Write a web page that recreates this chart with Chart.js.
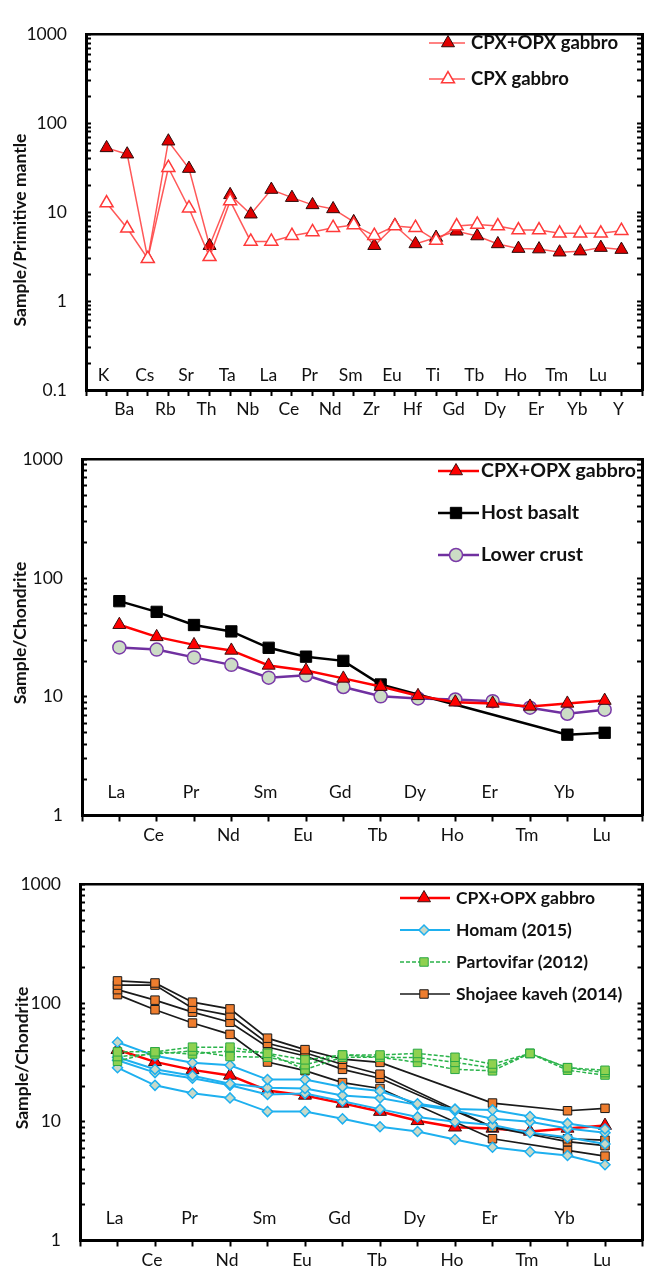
<!DOCTYPE html>
<html>
<head>
<meta charset="utf-8">
<title>Trace and rare earth element patterns</title>
<script src="https://cdn.jsdelivr.net/npm/chart.js@4.4.1/dist/chart.umd.min.js"></script>
<style>
  html, body { margin: 0; padding: 0; background: #fff; }
  #wrap { position: relative; width: 651px; height: 1275px; overflow: hidden; }
  .panel { position: absolute; left: 0; width: 651px; height: 425px; }
  .panel canvas { display: block; }
</style>
</head>
<body>
<div id="wrap">
  <div class="panel" style="top:0px"><canvas id="pm" width="651" height="425"></canvas></div>
  <div class="panel" style="top:425px"><canvas id="ree" width="651" height="425"></canvas></div>
  <div class="panel" style="top:850px"><canvas id="cmp" width="651" height="425"></canvas></div>
</div>
<script>
// ---- element sequences ----
const traceElements = ['K','Ba','Cs','Rb','Sr','Th','Ta','Nb','La','Ce','Pr','Nd','Sm','Zr','Eu','Hf','Ti','Gd','Tb','Dy','Ho','Er','Tm','Yb','Lu','Y'];
const reeElements = ['La','Ce','Pr','Nd','Sm','Eu','Gd','Tb','Dy','Ho','Er','Tm','Yb','Lu'];

// ---- labelled y ticks ----
const pmTickLabels = [0.1, 1, 10, 100, 1000];
const chTickLabels = [1, 10, 100, 1000];

// ---- primitive-mantle normalised (trace elements) ----
const pmCpxOpxGabbro = [53, 45, 3.0, 63, 31, 4.2, 15.7, 9.5, 18, 14.6, 12.1, 10.9, 7.8, 4.2, 7.1, 4.4, 5.2, 6.1, 5.4, 4.4, 3.9, 3.85, 3.55, 3.65, 4.0, 3.8];
const pmCpxGabbro    = [12.7, 6.6, 3.0, 31.7, 11.1, 3.15, 13.4, 4.7, 4.7, 5.45, 6.0, 6.7, 7.2, 5.45, 7.0, 6.7, 4.8, 7.0, 7.3, 7.0, 6.3, 6.3, 5.8, 5.8, 5.8, 6.2];

// ---- chondrite normalised (REE) ----
const chCpxOpxGabbro = [40.5, 32, 27.4, 24.6, 18.4, 16.7, 14.3, 12.2, 10.2, 9.0, 8.8, 8.3, 8.8, 9.3];
const chHostBasalt   = [64, 52, 40.3, 35.6, 25.9, 21.8, 20.1, 12.7, null, null, null, null, 4.8, 4.98];
const chLowerCrust   = [26.1, 25.0, 21.5, 18.6, 14.5, 15.2, 12.1, 10.1, 9.7, 9.5, 9.2, 8.1, 7.2, 7.8];

const homam1 = [46.8, 36, 31.5, 30, 22.7, 22.7, 19.7, 18.2, 14.2, 12.8, 12.6, 11.1, 9.7, 8.7];
const homam2 = [35, 27.7, 24.5, 20.9, 19.4, 19.1, 16.7, 15.9, 13.9, 12.4, 10.6, 10.0, 8.8, 8.1];
const homam3 = [33, 26, 23.3, 20.3, 17, 17.3, 14.9, 12.8, 11.0, 10.0, 9.4, 8.1, 7.4, 6.5];
const homam4 = [28.6, 20.3, 17.4, 15.9, 12.2, 12.2, 10.6, 9.1, 8.3, 7.1, 6.1, 5.6, 5.2, 4.35];

const partovifar1 = [38.9, 38.9, 42.6, 42.6, 37.8, 33.3, 36.6, 36.6, 37.7, 35, 30.7, 37.7, 28.6, 27.2];
const partovifar2 = [35.5, 37.3, 39.6, 35.5, 35, 30.3, 36.6, 35, 34.8, 31.7, 28.5, 37.7, 28.6, 26];
const partovifar3 = [32.4, 38.9, 37.3, 39.6, 37.8, 27.6, 35, 35, 31.7, 27.7, 26.9, 37.7, 27.2, 24.8];

const shojaee1 = [154, 148, 102, 89.5, 50.7, 40.6, 33.7, 31.7, null, null, 14.4, null, 12.4, 13.0];
const shojaee2 = [142, 142, 90.5, 79, 45.9, 38.2, 30.4, 25.2, null, null, 9.0, null, 7.2, 7.0];
const shojaee3 = [130, 106, 84, 69, 42.7, 35.9, 27.7, 23.3, null, null, 9.0, null, 6.8, 6.3];
const shojaee4 = [118, 88, 68, 54.6, 31.9, 27, 21.4, 19.1, null, null, 7.2, null, 5.74, 5.14];

// ---- drawing helpers ----
const FONT = 'Lato, "Liberation Sans", "DejaVu Sans", sans-serif';
const INK = '#111';

function series(label, values, style) {
  return Object.assign({
    label,
    data: values.map((v, i) => ({ x: i, y: v })),
    spanGaps: true,
    tension: 0,
    fill: false,
    xAxisID: 'x',
    yAxisID: 'y'
  }, style);
}

const styles = {
  pmFilled: { borderColor: 'rgba(255,70,70,0.9)', borderWidth: 1.5, pointStyle: 'triangle', pointRadius: 7.5,
              pointBackgroundColor: '#e00000', pointBorderColor: '#2b0a0a', pointBorderWidth: 1, order: 2 },
  pmOpen:   { borderColor: 'rgba(255,70,70,0.9)', borderWidth: 1.5, pointStyle: 'triangle', pointRadius: 7.5,
              pointBackgroundColor: '#ffffff', pointBorderColor: '#ff3a3a', pointBorderWidth: 1.5, order: 1 },
  gabbro:   { borderColor: '#ff0000', borderWidth: 2.5, pointStyle: 'triangle', pointRadius: 7.5,
              pointBackgroundColor: '#ff0000', pointBorderColor: '#3a1010', pointBorderWidth: 1 },
  basalt:   { borderColor: '#000000', borderWidth: 2.5, pointStyle: 'rect', pointRadius: 8,
              pointBackgroundColor: '#000000', pointBorderColor: '#000000', pointBorderWidth: 1 },
  crust:    { borderColor: '#7030a0', borderWidth: 2.5, pointStyle: 'circle', pointRadius: 6.5,
              pointBackgroundColor: '#ccdcc6', pointBorderColor: '#7a3aa8', pointBorderWidth: 1.5 },
  homam:    { borderColor: '#1eb0ef', borderWidth: 2, pointStyle: 'rectRot', pointRadius: 5,
              pointBackgroundColor: '#c8d9c8', pointBorderColor: '#1eb0ef', pointBorderWidth: 1.5 },
  partovi:  { borderColor: '#2ab34a', borderWidth: 1.5, borderDash: [4, 2], pointStyle: 'rect', pointRadius: 6,
              pointBackgroundColor: '#8fd150', pointBorderColor: '#2aa845', pointBorderWidth: 1 },
  shojaee:  { borderColor: '#1a1a1a', borderWidth: 1.7, pointStyle: 'rect', pointRadius: 6,
              pointBackgroundColor: '#ee7d2e', pointBorderColor: '#1a1a1a', pointBorderWidth: 1 }
};

// inner labels, rotated axis title and the boxed legend
const decor = {
  id: 'spiderDecor',
  afterDraw(chart, args, o) {
    const ctx = chart.ctx, ca = chart.chartArea, xs = chart.scales.x;
    ctx.save();
    ctx.fillStyle = INK;
    ctx.font = `${o.tickSize}px ${FONT}`;
    ctx.textAlign = 'center';
    ctx.textBaseline = 'middle';
    o.cats.forEach((c, i) => {
      if (i % 2 === 0) ctx.fillText(c, xs.getPixelForValue(i) + o.labelShift, ca.bottom - o.innerRise);
    });

    ctx.save();
    ctx.translate(o.title.x, o.title.y);
    ctx.rotate(-Math.PI / 2);
    ctx.font = `700 ${o.title.size}px ${FONT}`;
    ctx.fillText(o.title.text, 0, 0);
    ctx.restore();

    const L = o.legend;
    L.items.forEach((idx, k) => {
      const ds = chart.data.datasets[idx];
      const y = L.y0 + k * L.dy;
      ctx.save();
      ctx.strokeStyle = ds.borderColor;
      ctx.lineWidth = ds.borderWidth;
      ctx.setLineDash(ds.borderDash || []);
      ctx.beginPath();
      ctx.moveTo(L.x1, y);
      ctx.lineTo(L.x2, y);
      ctx.stroke();
      ctx.setLineDash([]);
      ctx.fillStyle = ds.pointBackgroundColor;
      ctx.strokeStyle = ds.pointBorderColor;
      ctx.lineWidth = ds.pointBorderWidth;
      Chart.helpers.drawPoint(ctx, {
        pointStyle: ds.pointStyle, rotation: 0,
        radius: ds.pointRadius, borderWidth: ds.pointBorderWidth
      }, L.mx, y);
      ctx.restore();
      ctx.fillStyle = INK;
      ctx.font = `700 ${L.size}px ${FONT}`;
      ctx.textAlign = 'left';
      ctx.textBaseline = 'middle';
      ctx.fillText(ds.label, L.tx, y);
    });
    ctx.restore();
  }
};

function logTickList(min, max) {
  const out = [];
  for (let e = Math.round(Math.log10(min)); e < Math.round(Math.log10(max)); e++) {
    for (let m = 1; m < 10; m++) out.push({ value: +(m * Math.pow(10, e)).toPrecision(4) });
  }
  out.push({ value: max });
  return out;
}

function spider(id, p) {
  const n = p.cats.length;
  const span = [];
  for (let v = -1; v <= n; v++) span.push({ value: v });
  const yTicks = () => logTickList(p.yMin, p.yMax);
  const tickFont = { family: FONT, size: p.tickSize };

  return new Chart(document.getElementById(id), {
    type: 'line',
    data: { datasets: p.datasets },
    plugins: [decor],
    options: {
      responsive: false,
      animation: false,
      devicePixelRatio: 1,
      events: [],
      layout: { padding: { top: p.top, left: 0, right: 0, bottom: 0 } },
      plugins: {
        legend: { display: false },
        tooltip: { enabled: false },
        spiderDecor: {
          cats: p.cats, tickSize: p.tickSize, labelShift: -3, innerRise: p.innerRise,
          title: p.title, legend: p.legend
        }
      },
      scales: {
        x: {
          type: 'linear', position: 'bottom', min: -1, max: n,
          afterBuildTicks: s => { s.ticks = span.map(t => ({ value: t.value })); },
          afterFit: s => { s.height = p.xHeight; },
          ticks: {
            autoSkip: false, maxRotation: 0, padding: 3, labelOffset: -3, color: INK, font: tickFont,
            callback: v => (v >= 0 && v < n && v % 2 === 1) ? p.cats[v] : ''
          },
          grid: { drawOnChartArea: false, drawTicks: true, tickLength: 6, tickColor: '#000', tickWidth: 2 },
          border: { display: true, color: '#000', width: 3 }
        },
        xTop: {
          type: 'linear', position: 'top', min: -1, max: n,
          afterFit: s => { s.height = 0; },
          ticks: { display: false },
          grid: { display: false },
          border: { display: true, color: '#000', width: 2.5 }
        },
        y: {
          type: 'logarithmic', position: 'left', min: p.yMin, max: p.yMax,
          afterBuildTicks: s => { s.ticks = yTicks(); },
          afterFit: s => { s.width = p.left; },
          ticks: {
            autoSkip: false, padding: 24, color: INK, font: tickFont,
            callback: v => p.yLabels.includes(v) ? String(v) : ''
          },
          grid: { drawOnChartArea: false, drawTicks: true, tickLength: -5, tickColor: '#000', tickWidth: 2 },
          border: { display: true, color: '#000', width: 3 }
        },
        yRight: {
          type: 'logarithmic', position: 'right', min: p.yMin, max: p.yMax,
          afterBuildTicks: s => { s.ticks = yTicks(); },
          afterFit: s => { s.width = 2; },
          ticks: { display: false },
          grid: { drawOnChartArea: false, drawTicks: true, tickLength: -5, tickColor: '#000', tickWidth: 2 },
          border: { display: true, color: '#000', width: 3 }
        }
      }
    }
  });
}

function draw() {
  Chart.defaults.font.family = FONT;
  Chart.defaults.color = INK;

  spider('pm', {
    cats: traceElements, yMin: 0.1, yMax: 1000, yLabels: pmTickLabels,
    top: 22, left: 86, xHeight: 35, tickSize: 17.5, innerRise: 15,
    title: { text: 'Sample/Primitive mantle', x: 20, y: 230, size: 17.5 },
    legend: { items: [0, 1], x1: 429, x2: 465, mx: 448, tx: 471, y0: 43, dy: 36, size: 18.5 },
    datasets: [
      series('CPX+OPX gabbro', pmCpxOpxGabbro, styles.pmFilled),
      series('CPX gabbro', pmCpxGabbro, styles.pmOpen)
    ]
  });

  spider('ree', {
    cats: reeElements, yMin: 1, yMax: 1000, yLabels: chTickLabels,
    top: 22, left: 82, xHeight: 34, tickSize: 17.5, innerRise: 23,
    title: { text: 'Sample/Chondrite', x: 20, y: 208, size: 17.5 },
    legend: { items: [0, 1, 2], x1: 438, x2: 479, mx: 456, tx: 481, y0: 46, dy: 42, size: 19.5 },
    datasets: [
      series('CPX+OPX gabbro', chCpxOpxGabbro, styles.gabbro),
      series('Host basalt', chHostBasalt, styles.basalt),
      series('Lower crust', chLowerCrust, styles.crust)
    ]
  });

  const hs = Object.assign({}, styles.homam, { order: 2 });
  const ps = Object.assign({}, styles.partovi, { order: 1 });
  const ss = Object.assign({}, styles.shojaee, { order: 3 });
  const gs = Object.assign({}, styles.gabbro, { order: 4 });
  spider('cmp', {
    cats: reeElements, yMin: 1, yMax: 1000, yLabels: chTickLabels,
    top: 23, left: 80, xHeight: 28, tickSize: 17.5, innerRise: 22,
    title: { text: 'Sample/Chondrite', x: 22, y: 208, size: 17.5 },
    legend: { items: [0, 1, 5, 8], x1: 400, x2: 450, mx: 424, tx: 456, y0: 48, dy: 32, size: 17.5 },
    datasets: [
      series('CPX+OPX gabbro', chCpxOpxGabbro, gs),
      series('Homam (2015)', homam1, hs),
      series('Homam (2015)', homam2, hs),
      series('Homam (2015)', homam3, hs),
      series('Homam (2015)', homam4, hs),
      series('Partovifar (2012)', partovifar1, ps),
      series('Partovifar (2012)', partovifar2, ps),
      series('Partovifar (2012)', partovifar3, ps),
      series('Shojaee kaveh (2014)', shojaee1, ss),
      series('Shojaee kaveh (2014)', shojaee2, ss),
      series('Shojaee kaveh (2014)', shojaee3, ss),
      series('Shojaee kaveh (2014)', shojaee4, ss)
    ]
  });
}

if (document.fonts && document.fonts.load) {
  Promise.all([document.fonts.load('17px Lato'), document.fonts.load('700 17px Lato')])
    .then(draw, draw);
} else {
  draw();
}
</script>
</body>
</html>
